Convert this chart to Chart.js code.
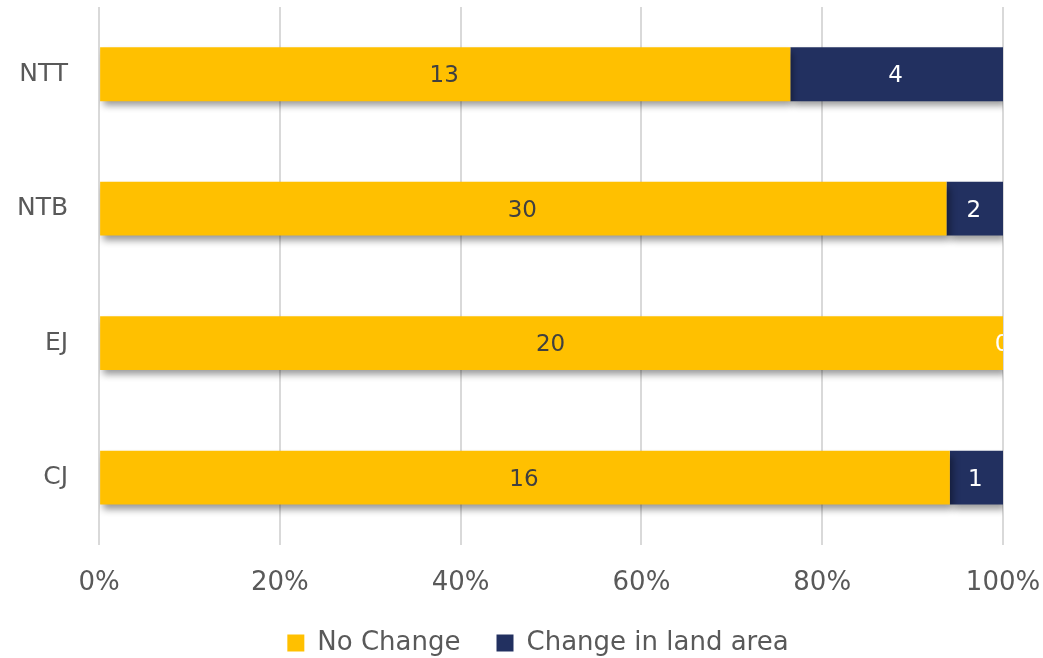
<!DOCTYPE html>
<html>
<head>
<meta charset="utf-8">
<script src="https://cdn.jsdelivr.net/npm/chart.js@4"></script>
<style>
  html, body { margin: 0; padding: 0; background: #ffffff; }
  #wrap { width: 1043px; height: 658px; }
</style>
</head>
<body>
<div id="wrap"><canvas id="c" width="1043" height="658"></canvas></div>
<script>
// Regions and household counts per outcome
const categories = ['NTT', 'NTB', 'EJ', 'CJ'];
const noChange = [13, 30, 20, 16];
const changeInLandArea = [4, 2, 0, 1];
const seriesNames = ['No Change', 'Change in land area'];
const xTicks = [0, 20, 40, 60, 80, 100];

const FONT = "'DejaVu Sans', 'Noto Sans', sans-serif";
const TEXT = '#595959';

// Stack to 100%: each bar shows its share of the region total
const totals = categories.map((_, i) => noChange[i] + changeInLandArea[i]);
const pct = arr => arr.map((v, i) => v / totals[i] * 100);

// Soft drop shadow under the bars
const barShadow = {
  id: 'barShadow',
  beforeDatasetsDraw(chart) {
    const ctx = chart.ctx;
    ctx.save();
    ctx.shadowColor = 'rgba(0,0,0,0.4)';
    ctx.shadowBlur = 7;
    ctx.shadowOffsetX = 3;
    ctx.shadowOffsetY = 5;
  },
  afterDatasetsDraw(chart) {
    chart.ctx.restore();
  }
};

// Count labels centred in each segment, clipped to the plot area
const countLabels = {
  id: 'countLabels',
  afterDatasetsDraw(chart) {
    const ctx = chart.ctx;
    const area = chart.chartArea;
    ctx.save();
    ctx.beginPath();
    ctx.rect(area.left, area.top, area.right - area.left, area.bottom - area.top);
    ctx.clip();
    ctx.font = '23px ' + FONT;
    ctx.textAlign = 'center';
    ctx.textBaseline = 'middle';
    chart.data.datasets.forEach((ds, di) => {
      const meta = chart.getDatasetMeta(di);
      meta.data.forEach((bar, i) => {
        const x = (bar.x + bar.base) / 2;
        ctx.fillStyle = ds.labelColor;
        ctx.fillText(String(ds.counts[i]), x - 1, bar.y + 2);
      });
    });
    ctx.restore();
  }
};

// Nudge the legend row to the right of centre
const legendShift = {
  id: 'legendShift',
  afterLayout(chart) {
    if (chart.legend) {
      chart.legend.left += 28;
      chart.legend.right += 28;
    }
  }
};

new Chart(document.getElementById('c'), {
  type: 'bar',
  data: {
    labels: categories,
    datasets: [
      {
        label: seriesNames[0],
        data: pct(noChange),
        counts: noChange,
        labelColor: '#404040',
        backgroundColor: '#FFC000',
        barPercentage: 0.4,
        categoryPercentage: 1.0
      },
      {
        label: seriesNames[1],
        data: pct(changeInLandArea),
        counts: changeInLandArea,
        labelColor: '#ffffff',
        backgroundColor: '#223060',
        barPercentage: 0.4,
        categoryPercentage: 1.0
      }
    ]
  },
  options: {
    indexAxis: 'y',
    responsive: false,
    animation: false,
    layout: { padding: { top: 0, left: 17, right: 40, bottom: 0 } },
    scales: {
      x: {
        stacked: true,
        min: 0,
        max: 100,
        afterBuildTicks(scale) { scale.ticks = xTicks.map(v => ({ value: v })); },
        ticks: {
          callback: v => v + '%',
          color: TEXT,
          font: { family: FONT, size: 26, lineHeight: 0.85 },
          padding: 0,
          maxRotation: 0
        },
        grid: { color: '#d9d9d9', lineWidth: 2, drawTicks: true, tickLength: 27, tickColor: 'rgba(0,0,0,0)' },
        border: { display: false }
      },
      y: {
        stacked: true,
        ticks: {
          color: TEXT,
          font: { family: FONT, size: 25, lineHeight: 0.56 },
          padding: 0
        },
        grid: { display: true, drawOnChartArea: false, drawTicks: true, tickLength: 31, tickColor: 'rgba(0,0,0,0)' },
        border: { display: false }
      }
    },
    plugins: {
      legend: {
        position: 'bottom',
        maxHeight: 64,
        labels: {
          color: TEXT,
          font: { family: FONT, size: 26 },
          boxWidth: 17,
          boxHeight: 17,
          padding: 36
        }
      },
      tooltip: { enabled: false }
    }
  },
  plugins: [barShadow, countLabels, legendShift]
});
</script>
</body>
</html>
